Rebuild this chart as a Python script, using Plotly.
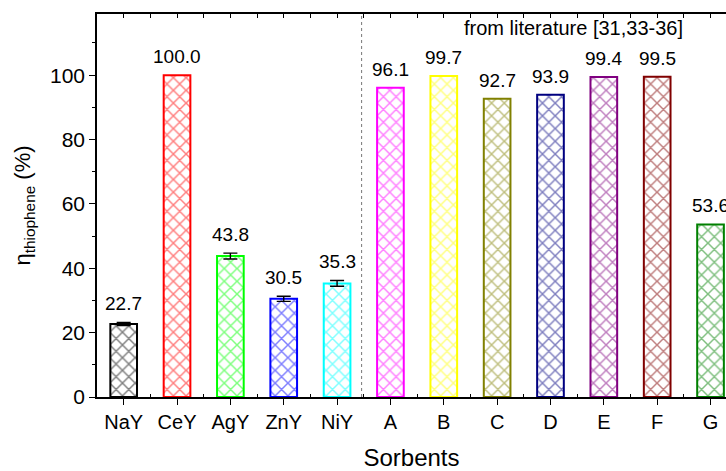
import plotly.graph_objects as go

categories = ["NaY", "CeY", "AgY", "ZnY", "NiY", "A", "B", "C", "D", "E", "F", "G"]
values = [22.7, 100.0, 43.8, 30.5, 35.3, 96.1, 99.7, 92.7, 93.9, 99.4, 99.5, 53.6]
errors = [0.5, 0.0, 0.9, 0.8, 0.9, 0, 0, 0, 0, 0, 0, 0]
colors = ["#000000", "#FF0000", "#00FF00", "#0000FF", "#00FFFF", "#FF00FF",
          "#FFFF00", "#808000", "#000080", "#800080", "#800000", "#008000"]
y_ticks = [0, 20, 40, 60, 80, 100]
divider_pos = 4.46
lit_note = "from literature [31,33-36]"

FONT = "Arial, Liberation Sans, sans-serif"
xs = list(range(len(categories)))

fig = go.Figure()
fig.add_trace(go.Bar(
    x=xs, y=values, width=0.5,
    marker=dict(color="white",
                line=dict(color=colors, width=2),
                pattern=dict(shape="x", fgcolor=colors, bgcolor="white", size=9, solidity=0.3)),
    showlegend=False,
))

err_x = [x for x, e in zip(xs, errors) if e > 0]
err_y = [v for v, e in zip(values, errors) if e > 0]
err_e = [e for e in errors if e > 0]
fig.add_trace(go.Scatter(
    x=err_x, y=err_y, mode="markers", marker=dict(opacity=0),
    error_y=dict(type="data", array=err_e, visible=True, color="black", thickness=1.4, width=7),
    showlegend=False, hoverinfo="skip",
))

for x, v, e in zip(xs, values, errors):
    fig.add_annotation(x=x, y=v + e, text=f"{v:.1f}", showarrow=False, yanchor="bottom",
                       yshift=6, font=dict(size=19, color="black", family=FONT))

fig.add_shape(type="line", x0=divider_pos, x1=divider_pos, y0=0, y1=1, xref="x", yref="paper",
              line=dict(color="#777777", width=1, dash="dot"))
fig.add_annotation(x=8.44, y=1, yref="paper", text=lit_note, showarrow=False, yanchor="top", yshift=-1,
                   font=dict(size=20, color="black", family=FONT))

fig.update_layout(
    width=726, height=471,
    margin=dict(l=97, r=0, t=14, b=74),
    plot_bgcolor="white", paper_bgcolor="white",
    font=dict(family=FONT, color="black", size=20),
    xaxis=dict(range=[-0.5, 11.29], tickmode="array", tickvals=xs, ticktext=categories,
               showline=True, linecolor="black", linewidth=1.5, ticks="outside", ticklen=6,
               tickwidth=1.3, tickcolor="black", showgrid=False, zeroline=False,
               tickfont=dict(size=20),
               minor=dict(tickmode="array", tickvals=[x + 0.5 for x in xs], ticks="inside",
                          ticklen=3, tickcolor="black"),
               title=dict(text="Sorbents", font=dict(size=24), standoff=20)),
    xaxis2=dict(overlaying="x", matches="x", side="top", showline=True, linecolor="black",
                linewidth=1.5, ticks="inside", ticklen=4, tickcolor="black", tickmode="array",
                tickvals=xs + [x + 0.5 for x in xs], showticklabels=False, showgrid=False,
                zeroline=False, anchor="y"),
    yaxis=dict(range=[0, 119], tickvals=y_ticks, showline=True, linecolor="black", linewidth=1.5,
               ticks="outside", ticklen=6, tickwidth=1.3, tickcolor="black", showgrid=False,
               zeroline=False, tickfont=dict(size=21),
               minor=dict(tickvals=[t + 10 for t in y_ticks], ticks="outside", ticklen=3,
                          tickcolor="black"),
               title=dict(text="η<sub>thiophene</sub> (%)", font=dict(size=22), standoff=13)),
)
fig.add_trace(go.Scatter(x=[0], y=[0], xaxis="x2", yaxis="y", mode="markers",
                         marker=dict(opacity=0), showlegend=False, hoverinfo="skip"))

fig.write_html("out.html")
